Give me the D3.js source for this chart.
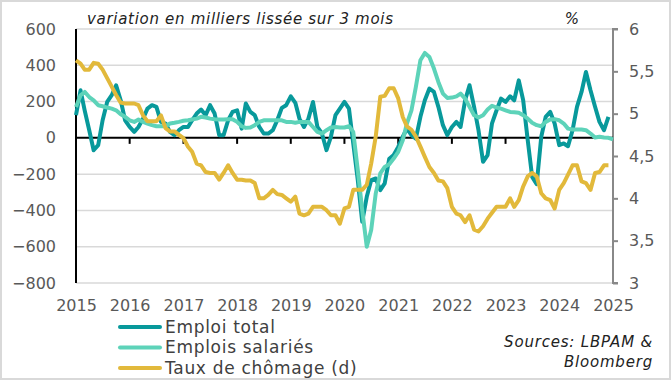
<!DOCTYPE html>
<html><head><meta charset="utf-8">
<script src="https://cdn.jsdelivr.net/npm/d3@7"></script>
<style>
html,body{margin:0;padding:0;background:#fff;}
svg text{font-family:"DejaVu Sans",sans-serif;}
</style></head>
<body>
<svg id="c" width="671" height="380"></svg>
<script>
// ---- Data (monthly, Jan 2015 onward) ----
const startYear = 2015;
const emploiTotal = [125,262,152,42,-68,-40,97,198,235,290,207,97,
 60,33,60,106,161,180,171,88,79,33,15,42,
 60,60,97,134,156,125,180,134,15,15,97,143,
 152,51,189,143,125,60,24,24,42,97,165,180,
 229,193,106,60,106,198,60,24,-68,6,125,161,
 198,161,-31,-233,-462,-325,-233,-224,-288,-251,-115,-95,
 -50,6,51,15,-4,116,207,272,253,171,70,15,
 60,88,60,207,290,171,42,-132,-95,80,152,216,
 198,229,207,317,207,-13,-215,-255,6,116,143,79,
 -40,-31,-46,42,171,253,363,262,171,88,42,116];
const emploisSalaries = [170,235,253,225,207,180,174,167,161,152,130,116,
 97,88,101,88,79,70,64,64,64,79,83,88,
 94,97,101,106,116,112,106,103,101,101,103,103,
 88,64,55,57,70,88,97,97,97,97,97,88,
 88,83,88,88,88,60,33,24,42,57,60,57,
 57,64,33,-178,-398,-600,-508,-306,-196,-160,-145,-114,
 -77,-13,79,152,281,428,468,446,382,308,244,220,
 222,229,244,216,171,125,112,125,156,177,167,161,
 152,143,141,138,125,106,83,70,64,88,101,103,
 97,79,51,46,46,46,42,24,2,6,2,0,
 -9];
const tauxChomage = [5.63,5.59,5.52,5.52,5.60,5.59,5.52,5.42,5.32,5.22,5.13,5.12,
 5.12,5.12,5.10,4.98,4.91,4.91,4.91,4.98,4.83,4.79,4.79,4.75,
 4.71,4.61,4.55,4.41,4.39,4.31,4.30,4.30,4.22,4.30,4.39,4.30,
 4.22,4.22,4.21,4.21,4.18,4.00,4.00,4.04,4.10,4.05,4.04,4.00,
 3.96,4.02,3.82,3.80,3.82,3.90,3.90,3.90,3.86,3.80,3.80,3.70,
 3.88,3.90,4.10,4.10,4.10,4.16,4.41,4.73,5.20,5.21,5.30,5.30,
 5.18,4.96,4.85,4.81,4.73,4.61,4.49,4.37,4.30,4.21,4.20,4.12,
 3.90,3.82,3.80,3.72,3.80,3.63,3.61,3.67,3.76,3.83,3.90,3.90,
 3.90,4.00,3.90,3.98,4.14,4.26,4.30,4.26,4.06,4.00,3.98,3.88,
 4.10,4.18,4.28,4.39,4.39,4.20,4.18,4.10,4.30,4.31,4.39,4.39];
const yearTicks = [2015,2016,2017,2018,2019,2020,2021,2022,2023,2024,2025];
const leftTicks = [-800,-600,-400,-200,0,200,400,600];
const rightTicks = [3,3.5,4,4.5,5,5.5,6];
const seriesNames = ["Emploi total","Emplois salariés","Taux de chômage (d)"];
const seriesColors = ["#08999b","#5dd3b9","#e2b93b"];
const titleText = "variation en milliers lissée sur 3 mois";
const unitText = "%";
const sourceLines = ["Sources: LBPAM &","Bloomberg"];

// ---- Drawing ----
const FONT = "'DejaVu Sans',sans-serif";
const svg = d3.select("#c");
const W = 671, H = 380;
const L = 76, R = 613, T = 29, B = 283;

svg.append("rect").attr("x",1).attr("y",1).attr("width",W-2).attr("height",H-2)
  .attr("fill","#fff").attr("stroke","#d9d9d9").attr("stroke-width",2);

const x = d3.scaleTime().domain([new Date(2015,0,1), new Date(2025,0,1)]).range([L,R]);
const yL = d3.scaleLinear().domain([-800,600]).range([B,T]);
const yR = d3.scaleLinear().domain([3,6]).range([B,T]);
const dateOf = i => new Date(startYear, i, 1);

// gridlines
svg.append("g").selectAll("line").data(leftTicks.filter(d=>d!==0)).join("line")
  .attr("x1",L).attr("x2",R).attr("y1",d=>yL(d)).attr("y2",d=>yL(d))
  .attr("stroke","#d9d9d9").attr("stroke-width",1.5);

// left axis labels
const gl = svg.append("g").attr("transform",`translate(${L},0)`)
  .call(d3.axisLeft(yL).tickValues(leftTicks).tickSize(0).tickPadding(20).tickFormat(d3.format("d")));
gl.select(".domain").remove();
gl.selectAll("text").attr("font-size",16).attr("fill","#595959").style("font-family",FONT);

// right axis
const gr = svg.append("g").attr("transform",`translate(${R},0)`)
  .call(d3.axisRight(yR).tickValues(rightTicks).tickSize(5).tickPadding(11)
    .tickFormat(d => String(d).replace(".",",")));
gr.select(".domain").attr("stroke","#888").attr("stroke-width",2).attr("d",`M5,${T}H0V${B}H5`);
gr.selectAll(".tick line").attr("stroke","#888").attr("stroke-width",2);
gr.selectAll("text").attr("font-size",16).attr("fill","#595959").style("font-family",FONT);

// bottom axis labels
const gb = svg.append("g").attr("transform",`translate(0,${B})`)
  .call(d3.axisBottom(x).tickValues(yearTicks.map(y=>new Date(y,0,1))).tickSize(0).tickPadding(17)
    .tickFormat(d3.timeFormat("%Y")));
gb.select(".domain").remove();
gb.selectAll("text").attr("font-size",16).attr("fill","#595959").style("font-family",FONT);

// zero line with year ticks
svg.append("line").attr("x1",L).attr("x2",R).attr("y1",yL(0)).attr("y2",yL(0))
  .attr("stroke","#000").attr("stroke-width",2);
svg.append("g").selectAll("line").data(yearTicks.slice(1,-1)).join("line")
  .attr("x1",d=>x(new Date(d,0,1))).attr("x2",d=>x(new Date(d,0,1)))
  .attr("y1",yL(0)).attr("y2",yL(0)+6).attr("stroke","#000").attr("stroke-width",2);

// left axis line
svg.append("line").attr("x1",L).attr("x2",L).attr("y1",T).attr("y2",B)
  .attr("stroke","#000").attr("stroke-width",2);

// lines
const lineL = d3.line().x((d,i)=>x(dateOf(i))).y(d=>yL(d)).curve(d3.curveLinear);
const lineR = d3.line().x((d,i)=>x(dateOf(i))).y(d=>yR(d)).curve(d3.curveLinear);
const g = svg.append("g").attr("fill","none").attr("stroke-width",4)
  .attr("stroke-linejoin","round").attr("stroke-linecap","butt");
g.append("path").attr("d",lineL(emploiTotal)).attr("stroke",seriesColors[0]);
g.append("path").attr("d",lineL(emploisSalaries)).attr("stroke",seriesColors[1]);
g.append("path").attr("d",lineR(tauxChomage)).attr("stroke",seriesColors[2]);

// title & unit
svg.append("text").attr("x",87).attr("y",24).attr("font-size",15).attr("font-style","italic")
  .attr("letter-spacing",0.7).attr("fill","#222").text(titleText);
svg.append("text").attr("x",572).attr("y",24).attr("font-size",15).attr("font-style","italic")
  .attr("text-anchor","middle").attr("fill","#222").text(unitText);

// legend
const lg = svg.append("g");
seriesNames.forEach((n,i)=>{
  const yy = 327 + i*20.5;
  lg.append("line").attr("x1",120).attr("x2",160).attr("y1",yy).attr("y2",yy)
    .attr("stroke",seriesColors[i]).attr("stroke-width",4).attr("stroke-linecap","round");
  lg.append("text").attr("x",165).attr("y",yy).attr("dy","0.35em").attr("font-size",17)
    .attr("letter-spacing",0.7).attr("fill","#404040").text(n);
});

// sources
sourceLines.forEach((s,i)=>{
  svg.append("text").attr("x",653).attr("y",342+i*20).attr("dy","0.35em").attr("text-anchor","end")
    .attr("font-size",15).attr("font-style","italic").attr("letter-spacing",0.8).attr("fill","#222").text(s);
});
</script>
</body></html>
